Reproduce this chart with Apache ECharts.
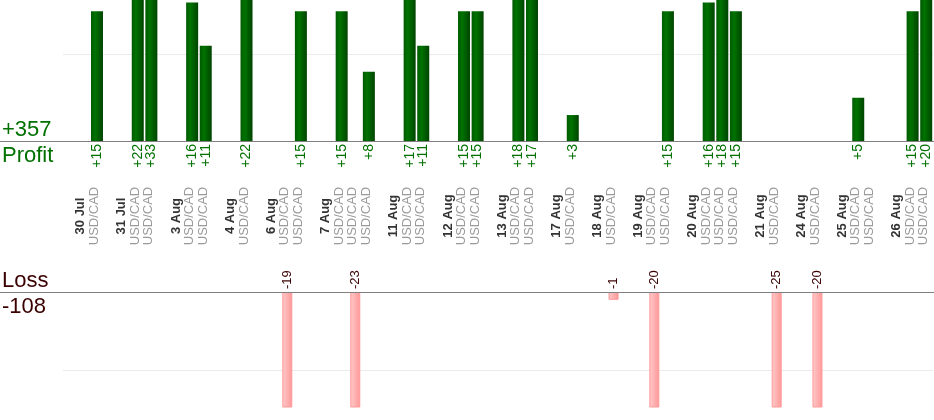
<!DOCTYPE html>
<html>
<head>
<meta charset="utf-8">
<script src="https://cdn.jsdelivr.net/npm/echarts@6/dist/echarts.min.js"></script>
<style>
html,body{margin:0;padding:0;background:#fff;}
#chart{width:934px;height:420px;}
</style>
</head>
<body>
<div id="chart"></div>
<script>
// slot labels: '' = spacer, date = day header, pair = trade
const slotLabels = [
  '', '30 Jul', 'USD/CAD',
  '', '31 Jul', 'USD/CAD', 'USD/CAD',
  '', '3 Aug', 'USD/CAD', 'USD/CAD',
  '', '4 Aug', 'USD/CAD',
  '', '6 Aug', 'USD/CAD', 'USD/CAD',
  '', '7 Aug', 'USD/CAD', 'USD/CAD', 'USD/CAD',
  '', '11 Aug', 'USD/CAD', 'USD/CAD',
  '', '12 Aug', 'USD/CAD', 'USD/CAD',
  '', '13 Aug', 'USD/CAD', 'USD/CAD',
  '', '17 Aug', 'USD/CAD',
  '', '18 Aug', 'USD/CAD',
  '', '19 Aug', 'USD/CAD', 'USD/CAD',
  '', '20 Aug', 'USD/CAD', 'USD/CAD', 'USD/CAD',
  '', '21 Aug', 'USD/CAD',
  '', '24 Aug', 'USD/CAD',
  '', '25 Aug', 'USD/CAD', 'USD/CAD',
  '', '26 Aug', 'USD/CAD', 'USD/CAD'
];
const profitValues = [
  null, null, 15,
  null, null, 22, 33,
  null, null, 16, 11,
  null, null, 22,
  null, null, null, 15,
  null, null, 15, null, 8,
  null, null, 17, 11,
  null, null, 15, 15,
  null, null, 18, 17,
  null, null, 3,
  null, null, null,
  null, null, null, 15,
  null, null, 16, 18, 15,
  null, null, null,
  null, null, null,
  null, null, 5, null,
  null, null, 15, 20
];
const lossValues = [
  null, null, null,
  null, null, null, null,
  null, null, null, null,
  null, null, null,
  null, null, 19, null,
  null, null, null, 23, null,
  null, null, null, null,
  null, null, null, null,
  null, null, null, null,
  null, null, null,
  null, null, 1,
  null, null, 20, null,
  null, null, null, null, null,
  null, null, 25,
  null, null, 20,
  null, null, null, null,
  null, null, null, null
];

const profitTotal = profitValues.reduce((a, v) => a + (v || 0), 0);
const lossTotal = lossValues.reduce((a, v) => a + (v || 0), 0);

const GREEN = '#007000';
const MAROON = '#3a0000';
const FONT = '"Liberation Sans", Arial, sans-serif';
const isDate = s => /\d/.test(s);

const chart = echarts.init(document.getElementById('chart'), null, {renderer: 'canvas'});
const option = {
  animation: false,
  backgroundColor: '#fff',
  grid: [
    {left: 63, right: 1, top: 0, height: 141},
    {left: 63, right: 1, top: 292, height: 115}
  ],
  xAxis: [
    {
      type: 'category', gridIndex: 0, data: slotLabels,
      axisLine: {show: false}, axisTick: {show: false},
      axisLabel: {
        interval: 0, rotate: 90, margin: 75, align: 'center', verticalAlign: 'middle',
        padding: [0, 0, 5, 0],
        formatter: v => v === '' ? '' : (isDate(v) ? '{d|' + v + '}' : '{p|' + v + '}'),
        rich: {
          d: {fontFamily: FONT, fontSize: 13, fontWeight: 'bold', color: '#333'},
          p: {fontFamily: FONT, fontSize: 13, color: '#9a9a9a'}
        }
      }
    },
    {
      type: 'category', gridIndex: 1, data: slotLabels,
      axisLine: {show: false}, axisTick: {show: false}, axisLabel: {show: false}
    }
  ],
  yAxis: [
    {
      type: 'value', gridIndex: 0, min: 0, max: 16.3, interval: 10,
      axisLine: {show: false}, axisTick: {show: false}, axisLabel: {show: false},
      splitLine: {lineStyle: {color: ['transparent', '#ebebeb', 'transparent']}}
    },
    {
      type: 'value', gridIndex: 1, min: 0, max: 14.7, interval: 10, inverse: true,
      axisLine: {show: false}, axisTick: {show: false}, axisLabel: {show: false},
      splitLine: {lineStyle: {color: ['transparent', '#ebebeb', 'transparent']}}
    }
  ],
  series: [
    {
      type: 'bar', xAxisIndex: 0, yAxisIndex: 0, data: profitValues, barWidth: 12,
      itemStyle: {
        color: new echarts.graphic.LinearGradient(0, 0, 1, 0, [
          {offset: 0, color: '#005a00'},
          {offset: 0.35, color: '#007300'},
          {offset: 1, color: '#004400'}
        ])
      },
      label: {
        show: true, position: 'bottom', distance: 3, rotate: 90,
        align: 'right', verticalAlign: 'middle',
        fontFamily: FONT, fontSize: 14, color: GREEN,
        formatter: p => '+' + p.value
      }
    },
    {
      type: 'bar', xAxisIndex: 1, yAxisIndex: 1, data: lossValues, barWidth: 10,
      itemStyle: {
        color: new echarts.graphic.LinearGradient(0, 0, 1, 0, [
          {offset: 0, color: '#ffcaca'},
          {offset: 1, color: '#ff9797'}
        ]),
        borderColor: '#ff9a9a', borderWidth: 1
      },
      label: {
        show: true, position: 'top', distance: 3, rotate: 90,
        align: 'left', verticalAlign: 'middle',
        fontFamily: FONT, fontSize: 13, color: MAROON,
        formatter: p => '-' + p.value
      }
    }
  ],
  graphic: [
    {type: 'line', z: 100, shape: {x1: 0, y1: 141.5, x2: 934, y2: 141.5}, style: {stroke: '#808080', lineWidth: 1}},
    {type: 'line', z: 100, shape: {x1: 0, y1: 292.5, x2: 934, y2: 292.5}, style: {stroke: '#808080', lineWidth: 1}},
    {type: 'text', left: 2, top: 119, style: {text: '+' + profitTotal, fill: GREEN, font: '22px ' + FONT}},
    {type: 'text', left: 2, top: 145, style: {text: 'Profit', fill: GREEN, font: '22px ' + FONT}},
    {type: 'text', left: 2, top: 270, style: {text: 'Loss', fill: MAROON, font: '22px ' + FONT}},
    {type: 'text', left: 2, top: 296, style: {text: '-' + lossTotal, fill: MAROON, font: '22px ' + FONT}}
  ]
};
chart.setOption(option);
</script>
</body>
</html>
